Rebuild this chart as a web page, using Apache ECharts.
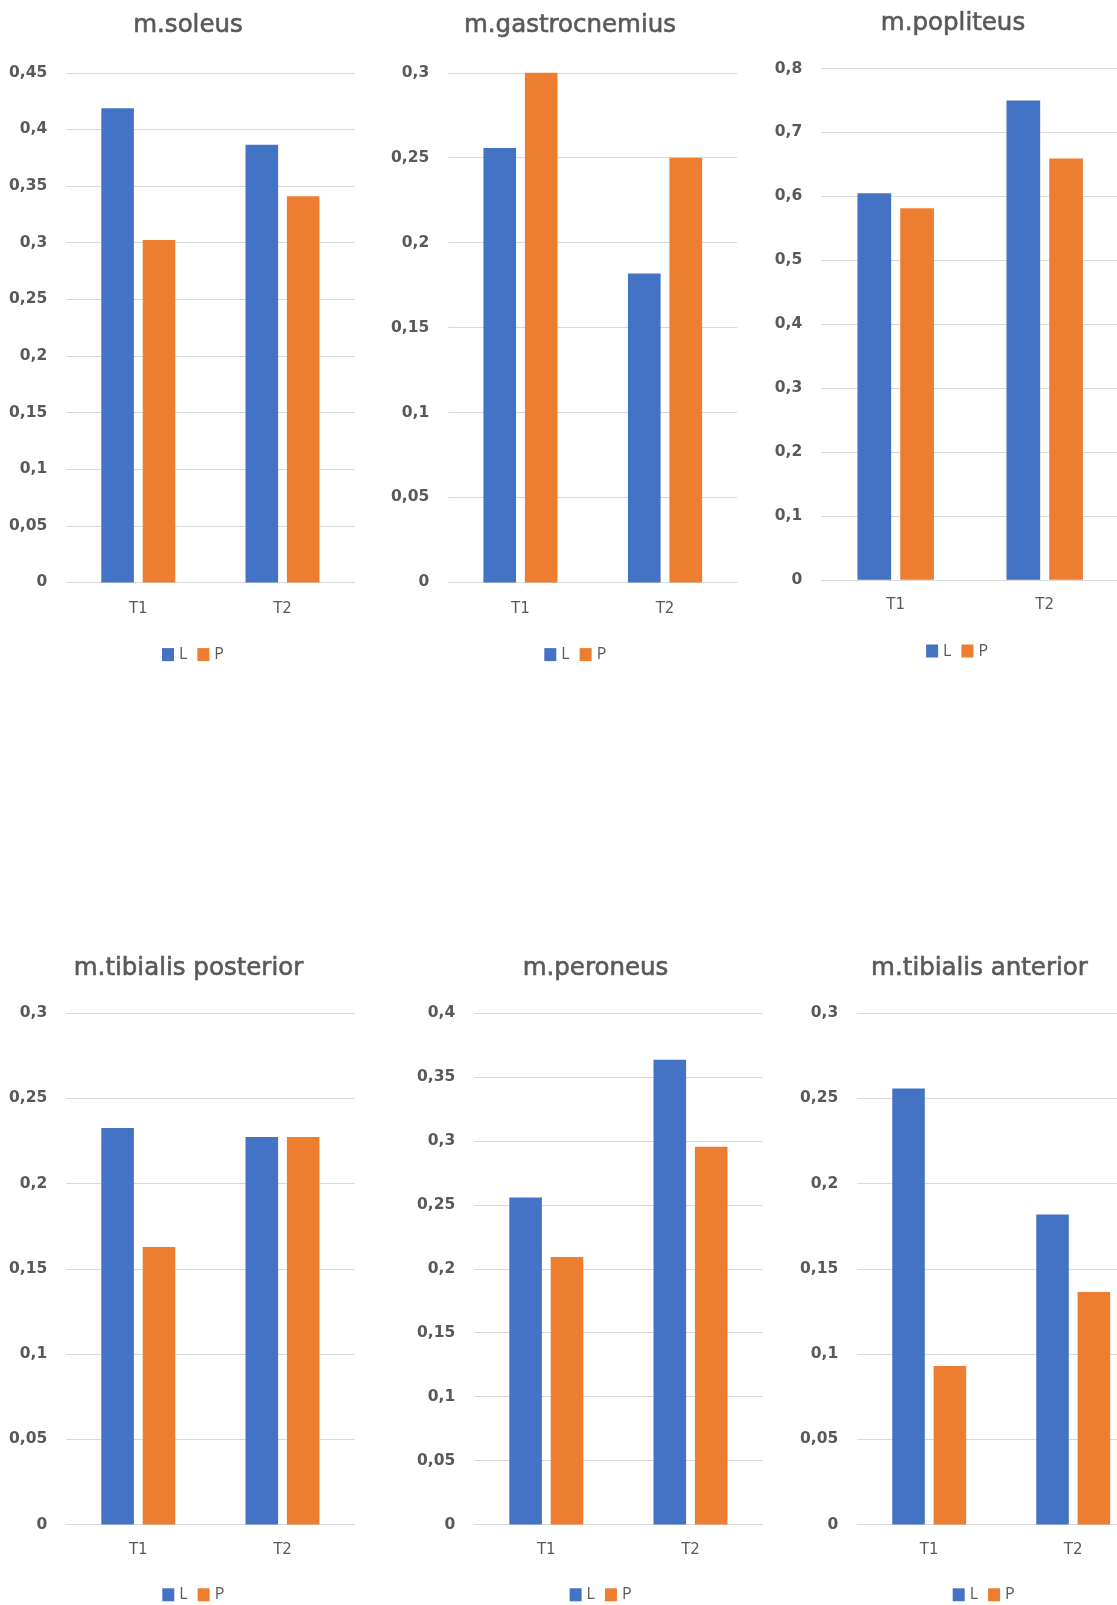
<!DOCTYPE html>
<html>
<head>
<meta charset="utf-8">
<title>EMG – L/P</title>
<script src="https://cdn.jsdelivr.net/npm/echarts@6.0.0/dist/echarts.min.js"></script>
<style>
  html, body { margin: 0; padding: 0; background: #ffffff; }
  body { position: relative; width: 1117px; height: 1605px; overflow: hidden; }
  .panel { position: absolute; }
</style>
</head>
<body>
<div id="soleus" class="panel"></div>
<div id="gastrocnemius" class="panel"></div>
<div id="popliteus" class="panel"></div>
<div id="tibPost" class="panel"></div>
<div id="peroneus" class="panel"></div>
<div id="tibAnt" class="panel"></div>
<script>
// ---- data ----
const categories = ['T1', 'T2'];
const seriesNames = ['L', 'P'];

const soleusL = [0.4186, 0.3864];
const soleusP = [0.3023, 0.3409];
const gastrocnemiusL = [0.2558, 0.1818];
const gastrocnemiusP = [0.3000, 0.2500];
const popliteusL = [0.6047, 0.7500];
const popliteusP = [0.5814, 0.6591];
const tibPostL = [0.2326, 0.2273];
const tibPostP = [0.1628, 0.2273];
const peroneusL = [0.2558, 0.3636];
const peroneusP = [0.2093, 0.2955];
const tibAntL = [0.2558, 0.1818];
const tibAntP = [0.0930, 0.1364];

const ticks045 = ['0', '0,05', '0,1', '0,15', '0,2', '0,25', '0,3', '0,35', '0,4', '0,45'];
const ticks03 = ['0', '0,05', '0,1', '0,15', '0,2', '0,25', '0,3'];
const ticks04 = ['0', '0,05', '0,1', '0,15', '0,2', '0,25', '0,3', '0,35', '0,4'];
const ticks08 = ['0', '0,1', '0,2', '0,3', '0,4', '0,5', '0,6', '0,7', '0,8'];

// ---- styles ----
const BLUE = '#4472C4';
const ORANGE = '#ED7D31';
const GRID_LINE = '#D9D9D9';
const TEXT = '#595959';

// ---- panel layout (page px) ----
const panels = [
  { id: 'soleus', title: 'm.soleus', L: soleusL, P: soleusP, ticks: ticks045, step: 0.05,
    box: [0, 0, 376, 675], grid: [66.2, 72.8, 288.4, 509.6], titleY: 25.6, catY: 609, legend: [162, 654.6] },
  { id: 'gastrocnemius', title: 'm.gastrocnemius', L: gastrocnemiusL, P: gastrocnemiusP, ticks: ticks03, step: 0.05,
    box: [382, 0, 376, 675], grid: [66.2, 72.8, 289.1, 509.6], titleY: 25.6, catY: 609, legend: [162.3, 654.6] },
  { id: 'popliteus', title: 'm.popliteus', L: popliteusL, P: popliteusP, ticks: ticks08, step: 0.1,
    box: [754.6, 0, 396, 675], grid: [66.2, 68.5, 298, 511.3], titleY: 23.9, catY: 605, legend: [171.1, 651] },
  { id: 'tibPost', title: 'm.tibialis posterior', L: tibPostL, P: tibPostP, ticks: ticks03, step: 0.05,
    box: [0, 930, 377, 675], grid: [66.2, 83.1, 288.4, 511.4], titleY: 38.7, catY: 620, legend: [162.3, 664.8] },
  { id: 'peroneus', title: 'm.peroneus', L: peroneusL, P: peroneusP, ticks: ticks04, step: 0.05,
    box: [408.4, 930, 375.2, 675], grid: [66.2, 83.1, 288.4, 511.4], titleY: 38.7, catY: 620, legend: [161.6, 664.8] },
  { id: 'tibAnt', title: 'm.tibialis anterior', L: tibAntL, P: tibAntP, ticks: ticks03, step: 0.05,
    box: [790.6, 930, 377.4, 675], grid: [66.2, 83.1, 288, 511.4], titleY: 38.7, catY: 620, legend: [161.7, 664.8] }
];

panels.forEach(function (p) {
  const el = document.getElementById(p.id);
  el.style.left = p.box[0] + 'px';
  el.style.top = p.box[1] + 'px';
  el.style.width = p.box[2] + 'px';
  el.style.height = p.box[3] + 'px';

  const chart = echarts.init(el, null, { renderer: 'canvas' });
  const axisBottom = p.grid[1] + p.grid[3];
  const maxVal = p.step * (p.ticks.length - 1);

  chart.setOption({
    animation: false,
    backgroundColor: '#ffffff',
    title: {
      text: p.title,
      left: 'center',
      top: p.titleY - 17.5,
      textStyle: {
        fontFamily: 'DejaVu Sans', fontSize: 24.5, fontWeight: 'normal', color: TEXT, lineHeight: 25,
        textBorderColor: TEXT, textBorderWidth: 0.6
      }
    },
    legend: {
      data: seriesNames,
      left: p.legend[0] - 5,
      top: p.legend[1] - 13,
      icon: 'rect',
      itemWidth: 12,
      itemHeight: 13,
      itemGap: 10,
      selectedMode: false,
      textStyle: { fontFamily: 'Open Sans', fontSize: 16, color: TEXT, lineHeight: 16 }
    },
    grid: {
      left: p.grid[0], top: p.grid[1], width: p.grid[2], height: p.grid[3],
      containLabel: false, outerBoundsMode: 'none'
    },
    xAxis: {
      type: 'category',
      data: categories,
      axisTick: { show: false },
      axisLine: { show: true, lineStyle: { color: GRID_LINE, width: 1 } },
      axisLabel: { color: TEXT, fontFamily: 'DejaVu Sans', fontSize: 15, margin: p.catY - axisBottom - 7.5 },
      splitLine: { show: false }
    },
    yAxis: {
      type: 'value',
      min: 0,
      max: maxVal,
      interval: p.step,
      axisLine: { show: false },
      axisTick: { show: false },
      splitLine: { show: true, lineStyle: { color: GRID_LINE, width: 1 } },
      axisLabel: {
        color: TEXT, fontFamily: 'DejaVu Sans', fontWeight: 'bold', fontSize: 15.5, margin: 19,
        formatter: function (v) { return p.ticks[Math.round(v / p.step)]; }
      }
    },
    series: [
      { name: seriesNames[0], type: 'bar', data: p.L, barWidth: '22.6%', barGap: '27%',
        itemStyle: { color: BLUE } },
      { name: seriesNames[1], type: 'bar', data: p.P, barWidth: '22.6%', barGap: '27%',
        itemStyle: { color: ORANGE } }
    ]
  });
});
</script>
</body>
</html>
